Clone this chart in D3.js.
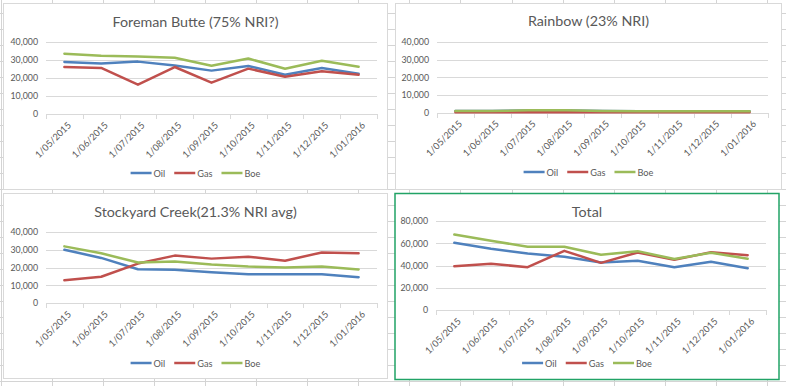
<!DOCTYPE html>
<html>
<head>
<meta charset="utf-8">
<script src="https://cdn.jsdelivr.net/npm/d3@7"></script>
<style>
  html, body { margin: 0; padding: 0; background: #fff; }
  svg { display: block; font-family: Lato, "Open Sans", sans-serif; }
</style>
</head>
<body>
<svg id="c" width="786" height="386"></svg>
<script>
// ---------- data ----------
const categories = ["1/05/2015","1/06/2015","1/07/2015","1/08/2015","1/09/2015","1/10/2015","1/11/2015","1/12/2015","1/01/2016"];
const seriesNames = ["Oil","Gas","Boe"];

const foremanOil = [28900, 28000, 29100, 26900, 24100, 26700, 21800, 25600, 22400];
const foremanGas = [26100, 25600, 16300, 26100, 17400, 25200, 20700, 23700, 21800];
const foremanBoe = [33500, 32400, 31900, 31300, 26800, 30800, 25100, 29600, 26200];

const rainbowOil = [800, 800, 1200, 1200, 850, 700, 700, 700, 700];
const rainbowGas = [150, 150, 200, 200, 150, 150, 150, 150, 150];
const rainbowBoe = [850, 850, 1250, 1250, 900, 750, 750, 750, 750];

const stockyardOil = [30000, 25400, 19000, 18800, 17300, 16200, 16200, 16200, 14500];
const stockyardGas = [12800, 14800, 22200, 26700, 25000, 26100, 23800, 28500, 28000];
const stockyardBoe = [31900, 28000, 22800, 23400, 21700, 20500, 20000, 20600, 18900];

const totalOil = [60400, 55000, 50800, 47800, 42700, 44200, 38500, 43300, 37600];
const totalGas = [39400, 41500, 38500, 53200, 42400, 51700, 45100, 52000, 49300];
const totalBoe = [67800, 62300, 56800, 56800, 49600, 52900, 45800, 51500, 46000];

const ticksSmall = [0, 10000, 20000, 30000, 40000];
const ticksTotal = [0, 20000, 40000, 60000, 80000];

const titles = ["Foreman Butte (75% NRI?)", "Rainbow (23% NRI)", "Stockyard Creek(21.3% NRI avg)", "Total"];

// ---------- styles ----------
const colors = { Oil: "#4f81bd", Gas: "#c0504d", Boe: "#9bbb59" };
const textColor = "#595959";
const gridColor = "#d9d9d9";
const smallFont = 8.8;
const xLabelFont = 9.3;

const svg = d3.select("#c");

// spreadsheet background grid
const sheet = svg.append("g");
d3.range(0, 16).forEach(k => {
  const x = Math.round(1 + 51.05 * k) + 0.5;
  sheet.append("line").attr("x1", x).attr("x2", x).attr("y1", 0).attr("y2", 386)
    .attr("stroke", "#d4d4d4").attr("stroke-width", 1);
});
d3.range(0, 24).forEach(k => {
  const y = 13 + 16 * k + 0.5;
  sheet.append("line").attr("x1", 0).attr("x2", 786).attr("y1", y).attr("y2", y)
    .attr("stroke", "#d4d4d4").attr("stroke-width", 1);
});

function drawChart(cfg) {
  const g = svg.append("g");
  const f = cfg.frame;
  g.append("rect").attr("x", f[0]).attr("y", f[1]).attr("width", f[2] - f[0]).attr("height", f[3] - f[1])
    .attr("fill", "#fff").attr("stroke", cfg.border).attr("stroke-width", cfg.borderWidth || 1);

  const p = cfg.plot;
  const x = d3.scaleBand().domain(categories).range([p[0], p[2]]);
  const y = d3.scaleLinear().domain([0, cfg.ticks[cfg.ticks.length - 1]]).range([p[3], p[1]]);

  // title
  g.append("text").attr("x", (f[0] + f[2]) / 2).attr("y", cfg.titleY)
    .attr("text-anchor", "middle").attr("dominant-baseline", "central")
    .attr("font-size", 14.3).attr("fill", textColor).text(cfg.title);

  // gridlines
  g.append("g").selectAll("line").data(cfg.ticks).join("line")
    .attr("x1", p[0]).attr("x2", p[2])
    .attr("y1", d => Math.round(y(d)) + 0.5).attr("y2", d => Math.round(y(d)) + 0.5)
    .attr("stroke", gridColor).attr("stroke-width", 1);

  // y axis labels
  const ya = g.append("g").attr("transform", `translate(${p[0]},0)`)
    .call(d3.axisLeft(y).tickValues(cfg.ticks).tickFormat(d3.format(",")).tickSize(0).tickPadding(8));
  ya.select(".domain").remove();
  ya.selectAll("text").attr("font-size", smallFont).attr("fill", textColor).attr("font-family", "Lato, sans-serif");

  // x boundary tick marks
  const bounds = d3.range(categories.length + 1).map(i => p[0] + i * x.step());
  g.append("g").selectAll("line").data(bounds).join("line")
    .attr("x1", d => Math.round(d) + 0.5).attr("x2", d => Math.round(d) + 0.5)
    .attr("y1", Math.round(y(0))).attr("y2", Math.round(y(0)) + 5)
    .attr("stroke", gridColor).attr("stroke-width", 1);

  // x labels
  const xa = g.append("g").attr("transform", `translate(0,${y(0)})`)
    .call(d3.axisBottom(x).tickSize(0).tickPadding(0));
  xa.select(".domain").remove();
  xa.selectAll("text")
    .attr("font-size", xLabelFont).attr("fill", textColor).attr("font-family", "Lato, sans-serif")
    .attr("text-anchor", "end")
    .attr("dy", "0.35em")
    .attr("transform", "translate(5,9.5) rotate(-45)")
    .attr("y", 0);

  // lines
  const line = d3.line()
    .x((d, i) => x(categories[i]) + x.bandwidth() / 2)
    .y(d => y(d));
  seriesNames.forEach((name, si) => {
    g.append("path").datum(cfg.series[si])
      .attr("fill", "none").attr("stroke", colors[name]).attr("stroke-width", 2.5)
      .attr("stroke-linejoin", "round").attr("stroke-linecap", "round")
      .attr("d", line);
  });

  // legend
  const lg = g.append("g");
  let cx = 0;
  seriesNames.forEach(name => {
    const it = lg.append("g").attr("transform", `translate(${cx},0)`);
    it.append("line").attr("x1", 0).attr("x2", 21).attr("y1", 0).attr("y2", 0)
      .attr("stroke", colors[name]).attr("stroke-width", 2.5);
    const t = it.append("text").attr("x", 23).attr("y", 0).attr("dominant-baseline", "central")
      .attr("font-size", smallFont + 0.4).attr("fill", textColor).text(name);
    const w = 23 + t.node().getComputedTextLength();
    cx += w + 9;
  });
  const totalW = cx - 9;
  lg.attr("transform", `translate(${(f[0] + f[2]) / 2 - totalW / 2},${cfg.legendY})`);
}

drawChart({
  frame: [3.5, 3.5, 387.5, 189.5], border: gridColor,
  plot: [46, 42, 377, 114], ticks: ticksSmall, title: titles[0], titleY: 21, legendY: 173,
  series: [foremanOil, foremanGas, foremanBoe]
});
drawChart({
  frame: [395.5, 3.5, 781.5, 189.5], border: gridColor,
  plot: [437, 42, 768, 112.5], ticks: ticksSmall, title: titles[1], titleY: 20, legendY: 172,
  series: [rainbowOil, rainbowGas, rainbowBoe]
});
drawChart({
  frame: [3.5, 193.5, 387.5, 378.5], border: gridColor,
  plot: [46, 232, 377, 303], ticks: ticksSmall, title: titles[2], titleY: 211, legendY: 363,
  series: [stockyardOil, stockyardGas, stockyardBoe]
});
drawChart({
  frame: [395, 193.5, 779, 379.5], border: "#21a366", borderWidth: 1.5,
  plot: [436, 221, 766, 310], ticks: ticksTotal, title: titles[3], titleY: 211, legendY: 363,
  series: [totalOil, totalGas, totalBoe]
});
</script>
</body>
</html>
